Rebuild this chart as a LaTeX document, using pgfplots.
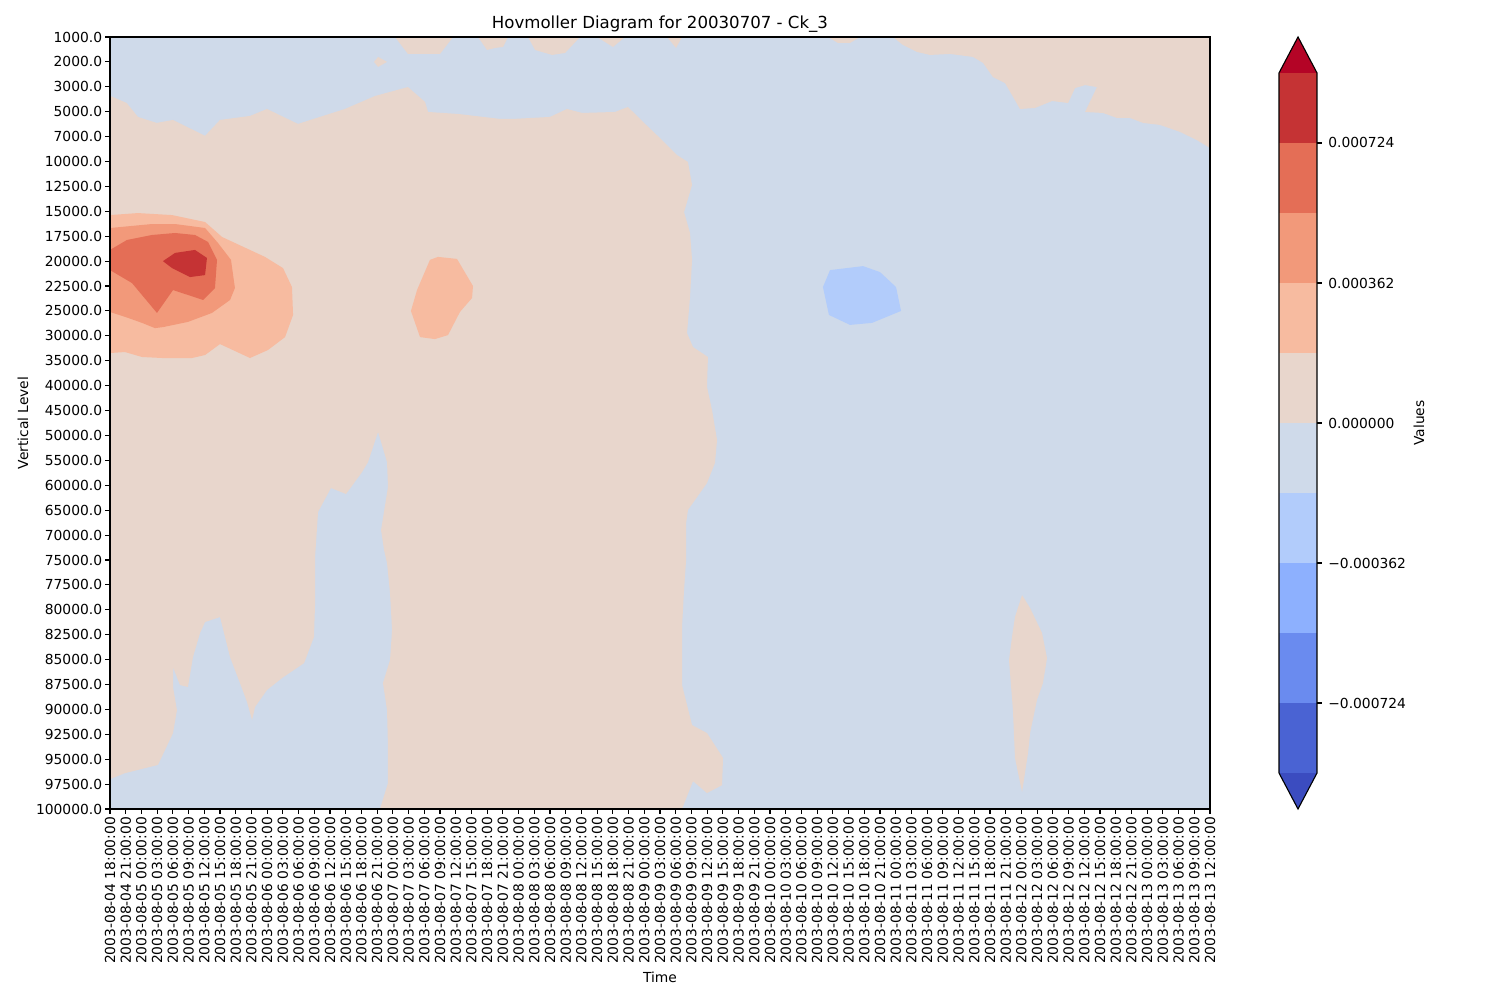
\documentclass[border=0pt]{standalone}
\usepackage{fontspec}
\setmainfont{DejaVu Sans}
\usepackage{pgfplots}
\pgfplotsset{compat=1.18}
\definecolor{cA}{HTML}{B40426}
\definecolor{c10}{HTML}{C53334}
\definecolor{c9}{HTML}{E46E56}
\definecolor{c8}{HTML}{F2997A}
\definecolor{c7}{HTML}{F7BBA0}
\definecolor{c6}{HTML}{E8D6CC}
\definecolor{c5}{HTML}{CFDAEA}
\definecolor{c4}{HTML}{B2CCFB}
\definecolor{c3}{HTML}{8DB0FE}
\definecolor{c2}{HTML}{6A8BEF}
\definecolor{c1}{HTML}{4A63D3}
\definecolor{cB}{HTML}{3B4CC0}
\begin{document}
\begin{tikzpicture}
\useasboundingbox (0,0) rectangle (15in,10in);
\begin{axis}[
  at={(1.10in,1.91in)}, anchor=south west, scale only axis,
  width=11in, height=7.72in,
  xmin=0, xmax=70, ymin=0, ymax=31, y dir=reverse,
  axis line style={line width=0.8pt},
  tick style={line width=0.8pt, black}, major tick length=3.5pt,
  tick align=outside, tick pos=left,
  xtick={0,...,70}, ytick={0,...,31},
  every tick label/.append style={font=\fontsize{10}{12}\selectfont},
  xticklabel style={rotate=90, anchor=east, inner sep=2pt},
  yticklabel style={anchor=east, inner sep=2pt},
  xticklabels={2003-08-04 18:00:00,2003-08-04 21:00:00,
  2003-08-05 00:00:00,2003-08-05 03:00:00,2003-08-05 06:00:00,2003-08-05 09:00:00,2003-08-05 12:00:00,2003-08-05 15:00:00,2003-08-05 18:00:00,2003-08-05 21:00:00,
  2003-08-06 00:00:00,2003-08-06 03:00:00,2003-08-06 06:00:00,2003-08-06 09:00:00,2003-08-06 12:00:00,2003-08-06 15:00:00,2003-08-06 18:00:00,2003-08-06 21:00:00,
  2003-08-07 00:00:00,2003-08-07 03:00:00,2003-08-07 06:00:00,2003-08-07 09:00:00,2003-08-07 12:00:00,2003-08-07 15:00:00,2003-08-07 18:00:00,2003-08-07 21:00:00,
  2003-08-08 00:00:00,2003-08-08 03:00:00,2003-08-08 06:00:00,2003-08-08 09:00:00,2003-08-08 12:00:00,2003-08-08 15:00:00,2003-08-08 18:00:00,2003-08-08 21:00:00,
  2003-08-09 00:00:00,2003-08-09 03:00:00,2003-08-09 06:00:00,2003-08-09 09:00:00,2003-08-09 12:00:00,2003-08-09 15:00:00,2003-08-09 18:00:00,2003-08-09 21:00:00,
  2003-08-10 00:00:00,2003-08-10 03:00:00,2003-08-10 06:00:00,2003-08-10 09:00:00,2003-08-10 12:00:00,2003-08-10 15:00:00,2003-08-10 18:00:00,2003-08-10 21:00:00,
  2003-08-11 00:00:00,2003-08-11 03:00:00,2003-08-11 06:00:00,2003-08-11 09:00:00,2003-08-11 12:00:00,2003-08-11 15:00:00,2003-08-11 18:00:00,2003-08-11 21:00:00,
  2003-08-12 00:00:00,2003-08-12 03:00:00,2003-08-12 06:00:00,2003-08-12 09:00:00,2003-08-12 12:00:00,2003-08-12 15:00:00,2003-08-12 18:00:00,2003-08-12 21:00:00,
  2003-08-13 00:00:00,2003-08-13 03:00:00,2003-08-13 06:00:00,2003-08-13 09:00:00,2003-08-13 12:00:00},
  yticklabels={1000.0,2000.0,3000.0,5000.0,7000.0,10000.0,12500.0,15000.0,17500.0,20000.0,22500.0,25000.0,30000.0,35000.0,40000.0,45000.0,50000.0,55000.0,60000.0,65000.0,70000.0,75000.0,77500.0,80000.0,82500.0,85000.0,87500.0,90000.0,92500.0,95000.0,97500.0,100000.0},
  title={Hovmoller Diagram for 20030707 - Ck\_3},
  title style={font=\fontsize{12}{14}\selectfont, yshift=-6pt},
  xlabel={Time}, ylabel={Vertical Level},
  label style={font=\fontsize{10}{12}\selectfont},
  axis on top,
]
% background level (small negative)
\addplot[fill=c5, draw=none] coordinates {(0,0) (70,0) (70,31) (0,31)};
% small positive level
\addplot[fill=c6, draw=none] coordinates {(0,2.36) (1.06,2.65) (1.78,3.21) (2.97,3.45) (4.01,3.33) (6.05,3.97) (7.0,3.33) (8.91,3.17) (9.99,2.89) (11.96,3.49) (14.95,2.89) (16.86,2.37) (18.96,2.01) (20.05,2.61) (20.24,3.01) (22.15,3.09) (23.23,3.17) (24.82,3.29) (25.65,3.29) (28.0,3.21) (29.08,2.89) (30.04,3.05) (32.14,3.01) (32.96,2.81) (33.92,3.41) (35.0,4.06) (36.08,4.74) (36.78,5.02) (37.04,5.94) (36.53,7.03) (36.91,7.87) (37.04,8.95) (36.91,10.44) (36.72,11.89) (37.1,12.45) (38.05,12.85) (37.99,14.05) (38.31,14.98) (38.63,16.18) (38.5,17.1) (37.99,17.91) (36.78,18.99) (36.66,19.52) (36.66,21.0) (36.53,22.21) (36.4,23.69) (36.4,26.02) (37.04,27.63) (37.99,27.95) (39.01,28.95) (38.95,30.04) (37.99,30.36) (37.1,29.88) (36.4,31) (17.18,31) (17.69,29.96) (17.69,28.51) (17.63,27.03) (17.37,25.94) (17.82,25.02) (17.95,23.81) (17.82,22.33) (17.63,21.12) (17.44,20.6) (17.25,19.8) (17.69,18.07) (17.63,17.07) (17.06,15.86) (16.42,17.07) (16.04,17.47) (15.02,18.35) (14.06,18.11) (13.24,19.07) (13.05,20.88) (13.05,22.73) (12.98,24.09) (12.35,25.14) (10.95,25.74) (9.99,26.22) (9.23,26.9) (9.04,27.43) (8.72,26.7) (8.27,25.94) (7.64,24.9) (7.0,23.29) (6.05,23.49) (5.73,23.93) (5.28,24.9) (4.96,26.1) (4.45,26.02) (4.01,25.3) (4.01,26.1) (4.26,27.03) (4.01,27.95) (3.05,29.23) (0.95,29.56) (0,29.8)};
\addplot[fill=c6, draw=none] coordinates {(18.14,0) (18.96,0.68) (21.0,0.68) (21.83,0)};
\addplot[fill=c6, draw=none] coordinates {(16.8,1.0) (17.06,0.8) (17.63,1.0) (17.06,1.2)};
\addplot[fill=c6, draw=none] coordinates {(23.42,0) (23.99,0.52) (24.5,0.44) (25.01,0.4) (25.33,0)};
\addplot[fill=c6, draw=none] coordinates {(26.6,0) (27.05,0.52) (28.13,0.72) (28.96,0.64) (29.91,0)};
\addplot[fill=c6, draw=none] coordinates {(30.99,0) (32.01,0.4) (32.77,0)};
\addplot[fill=c6, draw=none] coordinates {(35.45,0) (36.02,0.44) (36.4,0)};
\addplot[fill=c6, draw=none] coordinates {(45.69,0) (46.33,0.24) (47.09,0.24) (47.73,0)};
\addplot[fill=c6, draw=none] coordinates {(49.83,0) (50.46,0.32) (51.36,0.6) (52.18,0.72) (53.46,0.68) (54.92,0.8) (55.56,1.04) (56.19,1.61) (56.96,1.85) (57.91,2.89) (58.86,2.85) (59.95,2.57) (60.97,2.65) (61.41,2.05) (62.05,1.93) (62.81,2.01) (62.05,3.01) (63.19,3.05) (64.08,3.25) (64.91,3.25) (65.74,3.45) (66.82,3.53) (68.09,3.81) (69.17,4.14) (70,4.46) (70,0)};
\addplot[fill=c6, draw=none] coordinates {(58.04,22.41) (58.55,22.93) (59.31,23.93) (59.63,24.94) (59.37,25.94) (58.99,26.62) (58.55,27.95) (58.42,28.75) (58.04,30.32) (57.59,28.95) (57.46,27.03) (57.21,25.02) (57.4,24.09) (57.59,23.29)};
% negative level 2
\addplot[fill=c4, draw=none] coordinates {(45.37,10.04) (45.75,11.16) (47.09,11.56) (48.49,11.48) (50.34,11.0) (50.02,10.04) (49.0,9.44) (47.92,9.2) (45.82,9.36)};
% positive level 2
\addplot[fill=c7, draw=none] coordinates {(0,7.15) (1.78,7.07) (3.95,7.15) (6.05,7.43) (7.13,8.03) (9.86,8.83) (11.01,9.28) (11.58,10.04) (11.65,11.16) (11.14,12.05) (10.05,12.57) (8.91,12.89) (7.0,12.33) (6.05,12.77) (5.22,12.89) (3.31,12.89) (2.04,12.85) (0.95,12.65) (0,12.69)};
\addplot[fill=c7, draw=none] coordinates {(19.15,11.0) (19.54,10.16) (20.36,8.95) (20.87,8.83) (22.08,8.91) (23.1,10.0) (23.04,10.48) (22.27,11.04) (21.51,11.97) (20.68,12.13) (19.73,12.05)};
% positive level 3
\addplot[fill=c8, draw=none] coordinates {(0,7.67) (2.67,7.51) (4.14,7.51) (6.05,7.67) (6.87,8.27) (7.7,8.95) (7.95,10.08) (7.64,10.56) (6.49,11.08) (4.96,11.44) (3.37,11.65) (2.86,11.69) (2.04,11.48) (1.15,11.28) (0,11.04)};
% positive level 4
\addplot[fill=c9, draw=none] coordinates {(0,8.55) (1.08,8.15) (2.67,7.95) (4.14,7.87) (5.41,7.95) (6.24,8.23) (6.81,8.95) (6.68,10.08) (5.92,10.56) (4.01,10.16) (2.99,11.08) (1.4,9.88) (0,9.36)};
% positive level 5
\addplot[fill=c10, draw=none] coordinates {(3.37,9.0) (4.14,8.67) (5.41,8.55) (6.17,8.87) (6.05,9.56) (5.09,9.64) (3.95,9.28)};
\end{axis}
% colorbar
\begin{axis}[
  at={(12.79in,1.91in)}, anchor=south west, scale only axis,
  width=0.38in, height=7.72in,
  xmin=0, xmax=1, ymin=-998, ymax=998,
  hide x axis, axis y line*=right, y axis line style={draw=none},
  clip=false,
  tick style={line width=0.8pt, black}, major tick length=3.5pt,
  tick align=outside,
  ytick={-724,-362,0,362,724},
  yticklabels={−0.000724,−0.000362,0.000000,0.000362,0.000724},
  yticklabel style={font=\fontsize{10}{12}\selectfont, anchor=west, inner sep=2pt, xshift=2.5pt},
  ylabel={Values}, ylabel style={font=\fontsize{10}{12}\selectfont},
]
\addplot[fill=cB, draw=none] coordinates {(0,-905) (1,-905) (0.5,-998)};
\addplot[fill=c1, draw=none] coordinates {(0,-905) (1,-905) (1,-724) (0,-724)};
\addplot[fill=c2, draw=none] coordinates {(0,-724) (1,-724) (1,-543) (0,-543)};
\addplot[fill=c3, draw=none] coordinates {(0,-543) (1,-543) (1,-362) (0,-362)};
\addplot[fill=c4, draw=none] coordinates {(0,-362) (1,-362) (1,-181) (0,-181)};
\addplot[fill=c5, draw=none] coordinates {(0,-181) (1,-181) (1,0) (0,0)};
\addplot[fill=c6, draw=none] coordinates {(0,0) (1,0) (1,181) (0,181)};
\addplot[fill=c7, draw=none] coordinates {(0,181) (1,181) (1,362) (0,362)};
\addplot[fill=c8, draw=none] coordinates {(0,362) (1,362) (1,543) (0,543)};
\addplot[fill=c9, draw=none] coordinates {(0,543) (1,543) (1,724) (0,724)};
\addplot[fill=c10, draw=none] coordinates {(0,724) (1,724) (1,905) (0,905)};
\addplot[fill=cA, draw=none] coordinates {(0,905) (1,905) (0.5,998)};
\addplot[black, line width=0.8pt] coordinates {(0,-905) (0.5,-998) (1,-905) (1,905) (0.5,998) (0,905) (0,-905)};
\end{axis}
\end{tikzpicture}
\end{document}
